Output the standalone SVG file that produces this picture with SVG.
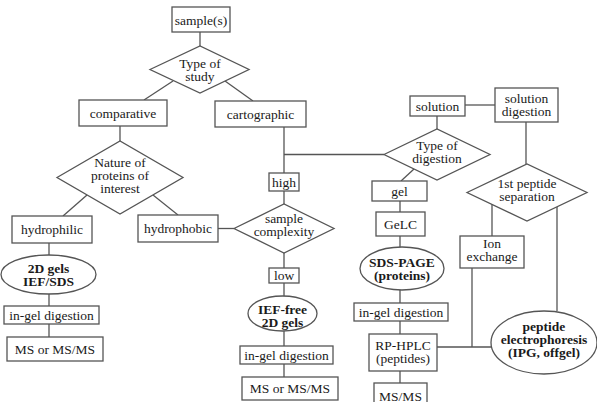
<svg xmlns="http://www.w3.org/2000/svg" width="597" height="402" viewBox="0 0 597 402">
<style>
.s{fill:#fff;stroke:#555;stroke-width:1.3}
.c line{stroke:#555;stroke-width:1.3}
text{font-family:"Liberation Serif","Times New Roman",serif;font-size:13.5px;fill:#1a1a1a;text-anchor:middle}
.b{font-weight:bold}
</style>
<rect width="597" height="402" fill="#fff"/>
<g class="c" id="connectors">
<line x1="200" y1="32" x2="200" y2="46"/>
<line x1="173" y1="81" x2="144" y2="100"/>
<line x1="225" y1="81" x2="253" y2="101"/>
<line x1="120" y1="126" x2="120" y2="141"/>
<line x1="87" y1="195" x2="63" y2="216"/>
<line x1="153" y1="195" x2="178" y2="215"/>
<line x1="49" y1="243" x2="49" y2="255"/>
<line x1="49" y1="294" x2="49" y2="306"/>
<line x1="49" y1="324" x2="49" y2="337"/>
<line x1="218" y1="228.5" x2="234" y2="228.5"/>
<line x1="284" y1="127" x2="284" y2="173"/>
<line x1="284" y1="154.5" x2="384" y2="154.5"/>
<line x1="284" y1="191" x2="284" y2="204"/>
<line x1="284" y1="253" x2="284" y2="268"/>
<line x1="284" y1="283" x2="284" y2="296"/>
<line x1="284" y1="331" x2="284" y2="346"/>
<line x1="284" y1="364" x2="284" y2="377"/>
<line x1="465" y1="105" x2="495" y2="105"/>
<line x1="437" y1="116" x2="437" y2="129"/>
<line x1="414" y1="169" x2="401" y2="181"/>
<line x1="400" y1="201" x2="400" y2="212"/>
<line x1="400" y1="236" x2="400" y2="247"/>
<line x1="400" y1="290" x2="400" y2="303"/>
<line x1="400" y1="321" x2="400" y2="334"/>
<line x1="400" y1="371" x2="400" y2="383"/>
<line x1="437" y1="347" x2="491" y2="347"/>
<line x1="472" y1="347" x2="472" y2="268"/>
<line x1="526" y1="122" x2="526" y2="164"/>
<line x1="492" y1="204" x2="492" y2="236"/>
<line x1="557" y1="207" x2="557" y2="311"/>
</g>
<g id="samples"><rect class="s" x="172" y="7" width="58" height="25"/><text x="201" y="24.5">sample(s)</text></g>
<g id="type-of-study"><polygon class="s" points="150,69.5 200,46 249,69.5 200,93"/><text x="200" y="68">Type of</text><text x="200" y="81">study</text></g>
<g id="comparative"><rect class="s" x="79" y="100" width="88" height="26"/><text x="123" y="117.5">comparative</text></g>
<g id="cartographic"><rect class="s" x="215" y="101" width="91" height="26"/><text x="260.5" y="118.5">cartographic</text></g>
<g id="nature"><polygon class="s" points="57,177.5 120,141 183,177.5 120,214"/><text x="120" y="167">Nature of</text><text x="120" y="180">proteins of</text><text x="120" y="193">interest</text></g>
<g id="hydrophilic"><rect class="s" x="12" y="216" width="80" height="27"/><text x="52" y="234">hydrophilic</text></g>
<g id="hydrophobic"><rect class="s" x="138" y="215" width="80" height="27"/><text x="178" y="233">hydrophobic</text></g>
<g id="gels2d"><ellipse class="s" cx="48.5" cy="274.5" rx="47.5" ry="19.5"/><text class="b" x="48.5" y="273">2D gels</text><text class="b" x="48.5" y="286">IEF/SDS</text></g>
<g id="ingel-left"><rect class="s" x="4" y="306" width="95" height="18"/><text x="51.5" y="319.5">in-gel digestion</text></g>
<g id="ms-left"><rect class="s" x="7" y="337" width="96" height="24"/><text x="55" y="353.5">MS or MS/MS</text></g>
<g id="high"><rect class="s" x="269" y="173" width="30" height="18"/><text x="284" y="186.5">high</text></g>
<g id="complexity"><polygon class="s" points="234,228.5 284,204 334,228.5 284,253"/><text x="284" y="223">sample</text><text x="284" y="236">complexity</text></g>
<g id="low"><rect class="s" x="269" y="268" width="30" height="15"/><text x="284" y="280">low</text></g>
<g id="ief-free"><ellipse class="s" cx="282.5" cy="313.5" rx="34.5" ry="17.5"/><text class="b" x="282.5" y="313.5">IEF-free</text><text class="b" x="282.5" y="327">2D gels</text></g>
<g id="ingel-mid"><rect class="s" x="240" y="346" width="93" height="18"/><text x="286.5" y="359.5">in-gel digestion</text></g>
<g id="ms-mid"><rect class="s" x="242" y="377" width="96" height="23"/><text x="290" y="393">MS or MS/MS</text></g>
<g id="solution"><rect class="s" x="410" y="96" width="55" height="20"/><text x="437.5" y="110.5">solution</text></g>
<g id="solution-digestion"><rect class="s" x="495" y="88" width="63" height="34"/><text x="526.5" y="103">solution</text><text x="526.5" y="116">digestion</text></g>
<g id="type-of-digestion"><polygon class="s" points="384,154.5 437,129 490,154.5 437,180"/><text x="437" y="150">Type of</text><text x="437" y="163">digestion</text></g>
<g id="gel"><rect class="s" x="372" y="181" width="55" height="20"/><text x="399.5" y="195.5">gel</text></g>
<g id="gelc"><rect class="s" x="376" y="212" width="49" height="24"/><text x="400.5" y="228.5">GeLC</text></g>
<g id="sds-page"><ellipse class="s" cx="402" cy="268.5" rx="42" ry="21.5"/><text class="b" x="402" y="267">SDS-PAGE</text><text class="b" x="402" y="280">(proteins)</text></g>
<g id="ingel-right"><rect class="s" x="354" y="303" width="94" height="18"/><text x="401" y="316.5">in-gel digestion</text></g>
<g id="rp-hplc"><rect class="s" x="369" y="334" width="68" height="37"/><text x="403" y="350">RP-HPLC</text><text x="403" y="363">(peptides)</text></g>
<g id="msms"><rect class="s" x="374" y="383" width="53" height="27"/><text x="400.5" y="401">MS/MS</text></g>
<g id="first-separation"><polygon class="s" points="467,192.5 527,164 587,192.5 527,221"/><text x="527" y="188">1st peptide</text><text x="527" y="201">separation</text></g>
<g id="ion-exchange"><rect class="s" x="460" y="236" width="64" height="32"/><text x="492" y="248">Ion</text><text x="492" y="261">exchange</text></g>
<g id="peptide-electrophoresis"><ellipse class="s" cx="544" cy="342.5" rx="53" ry="31.5"/><text class="b" x="544" y="331">peptide</text><text class="b" x="544" y="344">electrophoresis</text><text class="b" x="544" y="357">(IPG, offgel)</text></g>
</svg>
